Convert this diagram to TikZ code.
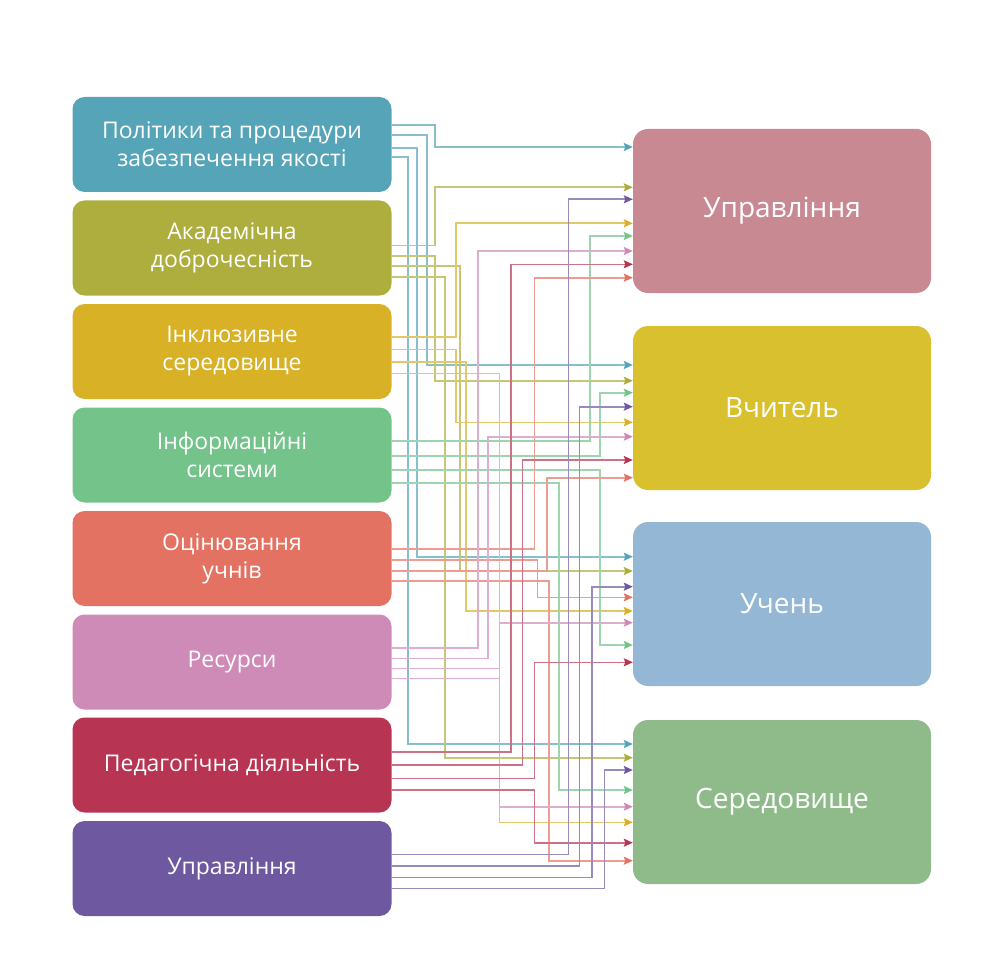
\documentclass[tikz,border=0pt]{standalone}
\usepackage{fontspec}
\setmainfont{Open Sans}
\usetikzlibrary{arrows.meta}
\definecolor{cA}{HTML}{56A4B8}
\definecolor{cB}{HTML}{ADAE3D}
\definecolor{cC}{HTML}{D8B126}
\definecolor{cD}{HTML}{74C38B}
\definecolor{cE}{HTML}{E47262}
\definecolor{cF}{HTML}{CE8BB8}
\definecolor{cG}{HTML}{B73453}
\definecolor{cH}{HTML}{6E589F}
\definecolor{rA}{HTML}{C88993}
\definecolor{rB}{HTML}{D8C02F}
\definecolor{rC}{HTML}{94B7D6}
\definecolor{rD}{HTML}{8FBB8B}
\tikzset{
  lbox/.style={draw=none, fill=#1, rounded corners=12pt, minimum width=319pt, minimum height=95pt,
    text=white, align=center, inner sep=0pt, font=\fontsize{23}{28}\selectfont},
  rbox/.style={draw=none, fill=#1, rounded corners=15pt, minimum width=298pt, minimum height=164pt,
    text=white, align=center, inner sep=0pt, font=\fontsize{28}{34}\selectfont},
  cl/.style={draw=#1!70!white, line width=1.6pt, -{Stealth[length=9pt,width=8pt,inset=1.5pt,color=#1]}}
}
\newcommand\cn[6]{\draw[cl=#1] (#2.east |- 0,#3) -| (#4,#6) -- (#5.west |- 0,#6);}
\begin{document}
\begin{tikzpicture}[x=1pt,y=-1pt]
\useasboundingbox (0,0) rectangle (1004,960);
\node[lbox=cA] (L1) at (232,144.5) {Політики та процедури\\забезпечення якості};
\node[lbox=cB] (L2) at (232,248) {Академічна\\доброчесність};
\node[lbox=cC] (L3) at (232,351.5) {Інклюзивне\\середовище};
\node[lbox=cD] (L4) at (232,455) {Інформаційні\\системи};
\node[lbox=cE] (L5) at (232,558.5) {Оцінювання\\учнів};
\node[lbox=cF] (L6) at (232,662) {Ресурси};
\node[lbox=cG] (L7) at (232,765) {Педагогічна діяльність};
\node[lbox=cH] (L8) at (232,868.5) {Управління};
\node[rbox=rA] (RA) at (782,211) {Управління};
\node[rbox=rB] (RB) at (782,408) {Вчитель};
\node[rbox=rC] (RC) at (782,604) {Учень};
\node[rbox=rD] (RD) at (782,802) {Середовище};
% L1
\cn{cA}{L1}{125}{435}{RA}{147}
\cn{cA}{L1}{135}{426.7}{RB}{365}
\cn{cA}{L1}{148}{417}{RC}{556.7}
\cn{cA}{L1}{157}{407.7}{RD}{744}
% L2
\cn{cB}{L2}{245.7}{435}{RA}{187.3}
\cn{cB}{L2}{255.7}{435}{RB}{380.7}
\cn{cB}{L2}{265.7}{460}{RC}{571}
\cn{cB}{L2}{276.7}{445}{RD}{757.7}
% L3
\cn{cC}{L3}{336.7}{456}{RA}{223.3}
\cn{cC}{L3}{349.3}{456}{RB}{422.3}
\cn{cC}{L3}{361.7}{466}{RC}{611}
\cn{cC}{L3}{373.3}{499.3}{RD}{822.3}
% L4
\cn{cD}{L4}{441}{590}{RA}{236}
\cn{cD}{L4}{455.7}{600}{RB}{392.7}
\cn{cD}{L4}{470}{600}{RC}{645}
\cn{cD}{L4}{482.7}{559}{RD}{790}
% L5
\cn{cE}{L5}{549}{534.3}{RA}{277.7}
\cn{cE}{L5}{560}{537.5}{RC}{597.3}
\cn{cE}{L5}{570.7}{546.7}{RB}{477.7}
\cn{cE}{L5}{581}{549}{RD}{860.7}
% L6
\cn{cF}{L6}{647.7}{477.7}{RA}{251}
\cn{cF}{L6}{658.3}{487.7}{RB}{436.7}
\cn{cF}{L6}{668.3}{499.3}{RC}{622.7}
\cn{cF}{L6}{678.3}{499.3}{RD}{806.7}
% L7
\cn{cG}{L7}{751.7}{511}{RA}{264.3}
\cn{cG}{L7}{765}{522.3}{RB}{460}
\cn{cG}{L7}{778.3}{534.3}{RC}{662.3}
\cn{cG}{L7}{790}{534.3}{RD}{842.7}
% L8
\cn{cH}{L8}{854.3}{568.3}{RA}{199.3}
\cn{cH}{L8}{865.7}{579.3}{RB}{406.7}
\cn{cH}{L8}{877.3}{591.7}{RC}{586.7}
\cn{cH}{L8}{888.3}{604.3}{RD}{770}
\end{tikzpicture}
\end{document}
